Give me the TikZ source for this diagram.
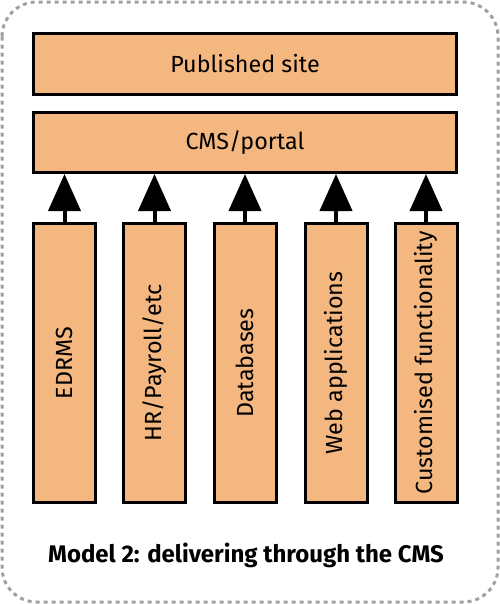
\documentclass[tikz,border=0pt]{standalone}
\usepackage{fontspec}
\setmainfont{Fira Sans}
\usetikzlibrary{arrows.meta}

\definecolor{peach}{RGB}{245,183,128}
\definecolor{frame}{RGB}{160,160,160}

\begin{document}
\begin{tikzpicture}[x=0.75pt, y=-0.75pt]

\tikzstyle{every node}=[font=\fontsize{17.5}{21}\selectfont]
\tikzstyle{box}=[draw, fill=peach, line width=2.25pt, inner sep=0pt]
\tikzstyle{wide}=[box, minimum width=317.25pt, minimum height=45.75pt]
\tikzstyle{tall}=[box, minimum width=46.5pt, minimum height=209.25pt]
\tikzstyle{feed}=[line width=3pt, -{Triangle[width=24pt, length=27.75pt]}]

\useasboundingbox (0,0) rectangle (500,604);
\draw[frame, line width=2.25pt, dash pattern=on 3pt off 3pt, rounded corners=26pt]
	(2,2) rectangle (498,602);

\node (published) at (245,64) [wide] {Published site};
\node (cms) at (245,142.5) [wide, minimum height=45pt] {CMS/portal};

\node (edrms) at (64.5,363) [tall] {\rotatebox{90}{EDRMS}};
\node (hr) at (154.5,363) [tall] {\rotatebox{90}{HR/Payroll/etc}};
\node (db) at (245,363) [tall] {\rotatebox{90}{Databases}};
\node (web) at (336,363) [tall] {\rotatebox{90}{Web applications}};
\node (custom) at (426,363) [tall] {\rotatebox{90}{Customised functionality}};

\draw[feed] (edrms.north) -- (cms.south -| edrms.north);
\draw[feed] (hr.north) -- (cms.south -| hr.north);
\draw[feed] (db.north) -- (cms.south -| db.north);
\draw[feed] (web.north) -- (cms.south -| web.north);
\draw[feed] (custom.north) -- (cms.south -| custom.north);

\node (caption) at (246,555) [font=\fontsize{18}{21}\selectfont\bfseries]
	{Model 2: delivering through the CMS};

\end{tikzpicture}
\end{document}
